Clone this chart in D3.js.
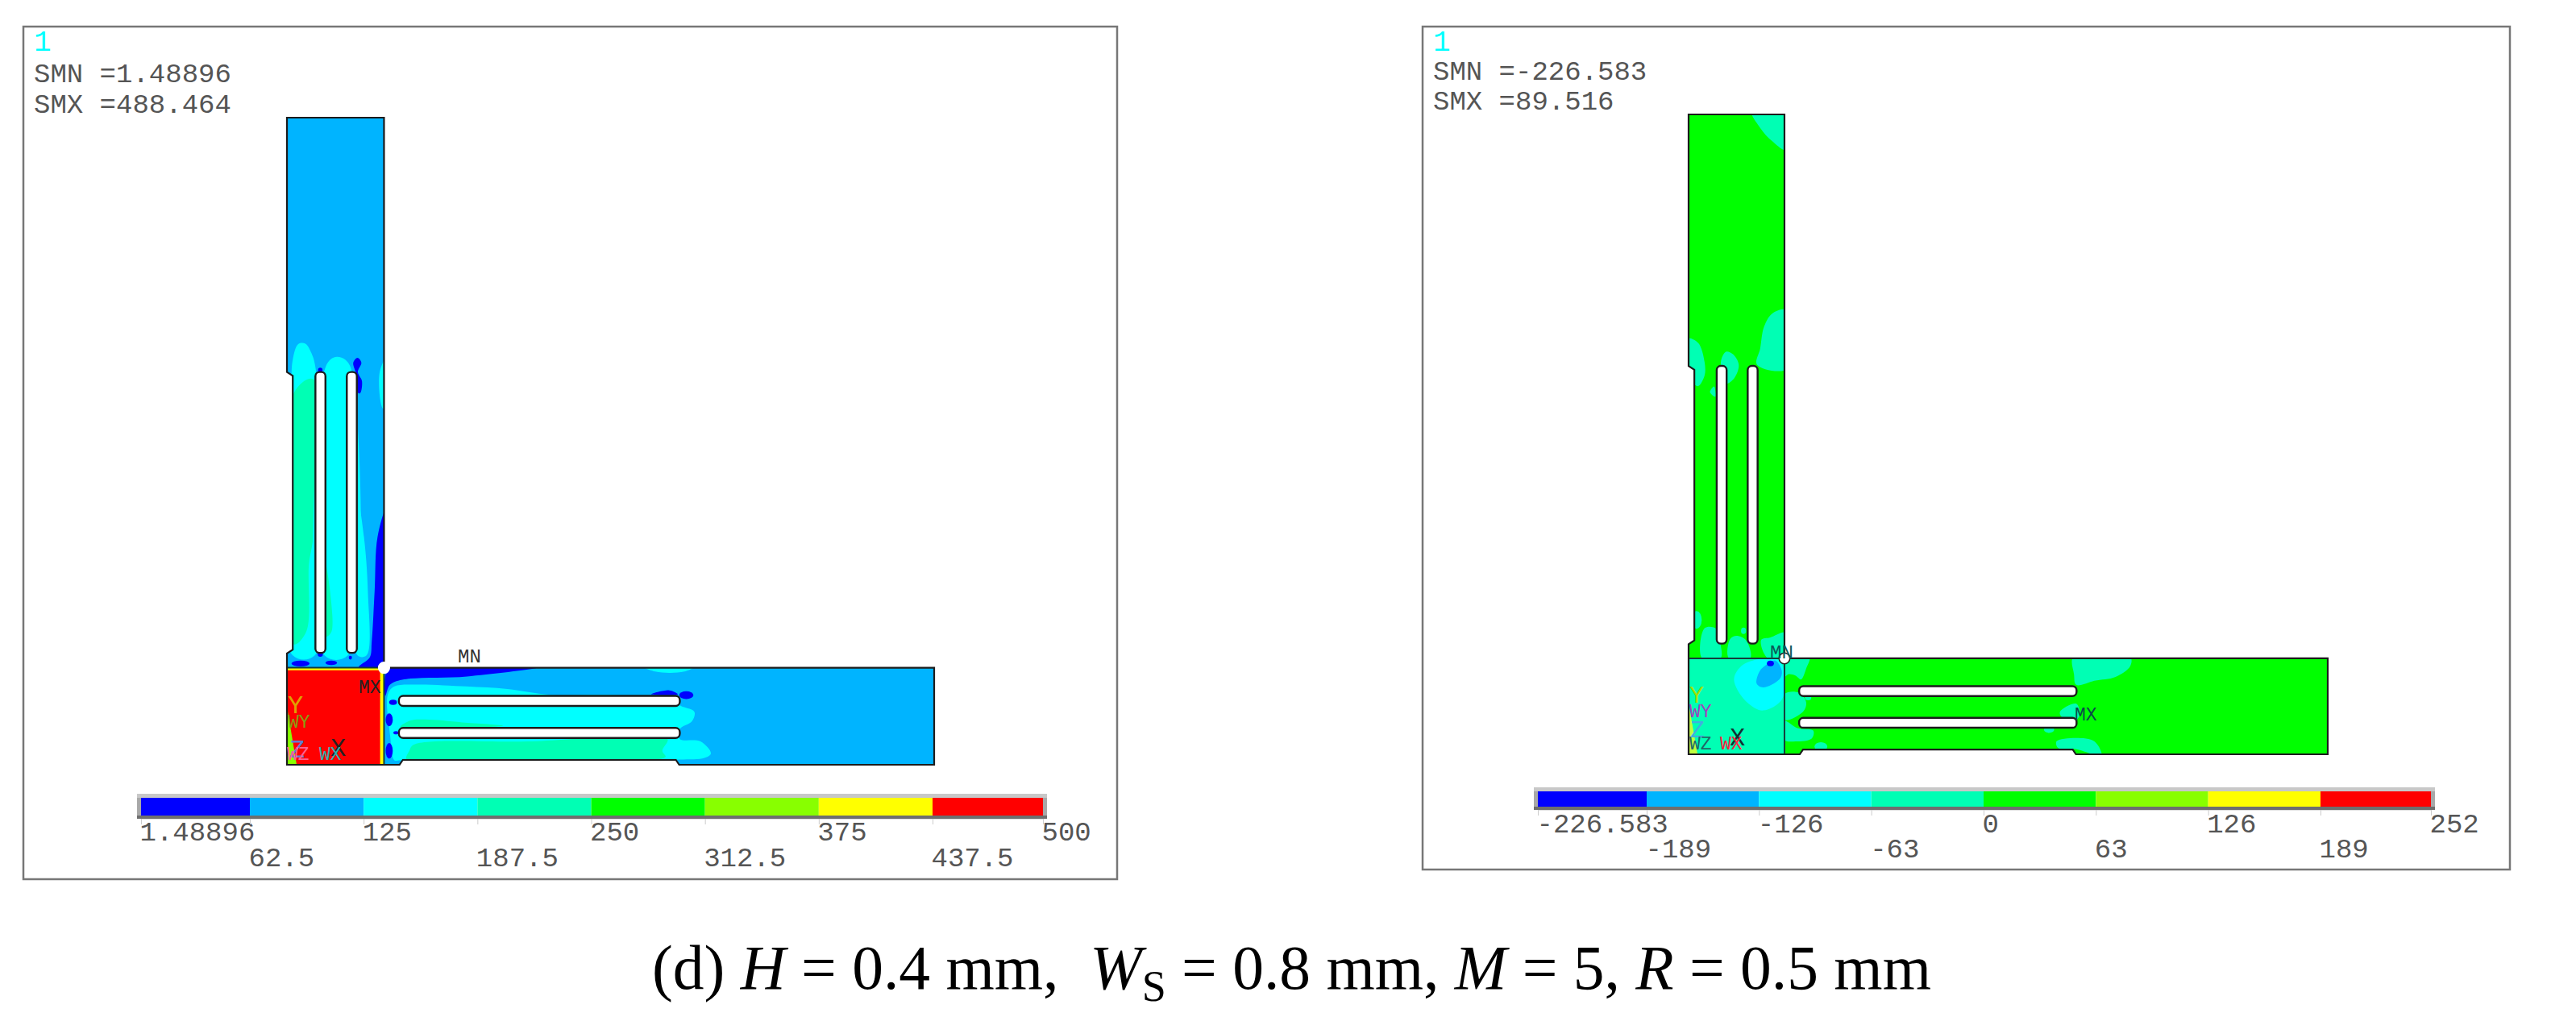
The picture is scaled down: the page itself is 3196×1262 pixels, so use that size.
<!DOCTYPE html>
<html>
<head>
<meta charset="utf-8">
<script src="https://cdn.jsdelivr.net/npm/d3@7"></script>
<style>
  html, body { margin: 0; padding: 0; background: #fff; }
  text { font-family: "Liberation Mono", monospace; }
</style>
</head>
<body>
<svg id="chart" width="3196" height="1262"></svg>
<script>
// contour colours, lowest band first
const bandColors = ['#0000ff', '#00b4ff', '#00ffff', '#00ffb4', '#00ff00', '#88ff00', '#ffff00', '#ff0000'];

// legend tick labels
const leftTicks = ['1.48896', '62.5', '125', '187.5', '250', '312.5', '375', '437.5', '500'];
const rightTicks = ['-226.583', '-189', '-126', '-63', '0', '63', '126', '189', '252'];

// part geometry, model units (the L is 100 x 100)
const bodyOutline = [[0, 0], [17.4, 0], [17.9, 0.75], [60.1, 0.75], [60.6, 0], [100, 0], [100, 15], [15, 15], [15, 100], [0, 100], [0, 60.7], [0.9, 60.1], [0.9, 17.8], [0, 17.2]];
const verticalSlots = [[4.4, 5.95], [9.25, 10.8]];
const horizontalSlots = [[4.15, 5.7], [9.1, 10.65]];
const slotStart = 17.3;
const slotEnd = 60.7;

// left model, von Mises bands: [band, points]
const leftRegions = [
  [2, [[0.7, 57.2], [0.9, 62.6], [1.75, 65], [2.8, 65.1], [3.7, 63.8], [4.45, 61.1], [4.3, 16.9], [0.9, 16.9]]],
  [3, [[1.1, 57.5], [4.05, 59.6], [4.05, 35.2], [3.4, 31], [3, 20.6], [1.1, 18.6]]],
  [2, [[5.7, 60.5], [6.7, 62.6], [7.75, 63.05], [9, 62.6], [10.05, 60.7], [9.4, 16.9], [5.8, 16.9]]],
  [3, [[6, 31], [6.9, 20.6], [6, 19.8]]],
  [2, [[11.1, 40.1], [11.9, 35.2], [12.5, 26.9], [12.3, 16.9], [10.9, 16.9]]],
  [0, [[15.4, 39.7], [14, 35.2], [13.55, 26.9], [13.1, 19], [12.8, 16.6], [11.1, 15.1], [15.4, 15.1]]],
  [2, [[15.4, 63], [14.3, 60.5], [14.85, 55], [15.4, 55]]],
  [0, [[10.25, 62.15], [10.9, 62.9], [11.5, 62.15], [10.95, 60.7], [11.6, 59.25], [11.3, 57.4], [10.95, 57.5], [10.65, 60.5]]],
  [2, [[15.6, 10.9], [16.6, 12.1], [20.1, 12.4], [27.7, 12.1], [34.05, 11.7], [40.7, 10.8], [49.9, 10.8], [60.7, 9.85], [60.7, 9.2], [62.95, 8.2], [62.6, 6.75], [60.7, 5.5], [60.7, 4], [63.9, 3.6], [65.5, 1.75], [64.5, 1.05], [60.7, 0.8], [51.8, 0.7], [17.5, 0.7], [16.6, 0.7], [15.95, 4.45]]],
  [3, [[19.6, 3.1], [37.2, 3.6], [58.8, 4], [58, 2.15], [58.5, 1.2], [51.8, 0.85], [18.5, 0.8], [18.9, 2.15]]],
  [3, [[19.1, 6.85], [21.4, 7], [27.1, 6.55], [33.4, 6.05], [17.5, 5.8]]],
  [0, [[15.2, 13.8], [15.9, 15.2], [39.5, 15.2], [27.8, 13.65], [17.8, 13.15], [15.9, 12.35], [15.2, 10.65]]],
  [0, [[56.3, 10.9], [59.1, 11.5], [60.4, 10.9]]],
  [2, [[55, 15.2], [63, 15.2], [61.4, 14.4], [59.1, 14.2], [56.9, 14.4]]]
];
// small spots: [band, u, v, ru, rv]
const leftSpots = [
  [0, 16.4, 9.65, 0.6, 0.4], [0, 15.8, 6.95, 0.55, 1], [0, 15.8, 2.15, 0.55, 1.2], [0, 16.85, 4.95, 0.4, 0.25],
  [0, 61.7, 10.75, 1.1, 0.6], [0, 2.1, 15.65, 1.4, 0.45], [0, 6.85, 15.75, 0.9, 0.35], [0, 9.8, 16.55, 0.25, 0.3],
  [0, 5.15, 17.1, 0.4, 0.4], [0, 5.15, 61, 0.35, 0.35]
];
// red corner block with its yellow edge
const leftBlock = [[0, 0], [14.4, 0], [14.4, 14.6], [0, 14.6]];
const leftBlockEdge = [[0, 0], [15, 0], [15, 15], [0, 15]];
const leftCornerTri = [[0, 9], [1.5, 0], [0, 0]];

// right model, S1 bands
const rightRegions = [
  [3, [[9.9, 100.5], [11.2, 97.9], [13.1, 95.8], [15.3, 94.4], [15.3, 100.5]]],
  [3, [[15.3, 69.4], [13.1, 68.9], [11.8, 66.8], [11.2, 63.4], [10.7, 60.9], [15.3, 60.2]]],
  [3, [[-0.2, 65], [1.5, 64.3], [2.5, 61.3], [2.5, 59.2], [1.5, 57.55], [0.7, 58], [-0.2, 60]]],
  [3, [[5.05, 61.3], [5.85, 62.9], [6.9, 62.55], [7.85, 60.9], [7.15, 58.8], [5.85, 57.95]]],
  [3, [[4, 57.5], [3.35, 56.6], [4.2, 55.85]]],
  [3, [[2.5, 19.7], [4.2, 19.7], [5, 17.2], [5, 15], [2.1, 15]]],
  [3, [[6.5, 18], [7.5, 18.5], [9, 17.8], [9.65, 15], [6.3, 15]]],
  [3, [[11.35, 17.85], [12.8, 18.25], [15.2, 19], [15.2, 15], [12.4, 15]]],
  [3, [[15, 15.2], [18.9, 15.2], [18.4, 13.4], [17.6, 11.7], [16.7, 12.3], [15.6, 12.5], [15, 12.1]]],
  [3, [[15, 9.4], [17.3, 9.6], [18.4, 8.1], [17.9, 6.65], [15, 5.4]]],
  [3, [[15, 5.2], [17, 4.1], [19.5, 3.7], [19.3, 2.5], [16.75, 2], [15, 2.25]]],
  [3, [[60.2, 15.2], [69.1, 15.2], [69.1, 13.8], [66.8, 12.1], [63.5, 11.5], [60.65, 10.85], [60.3, 12.5]]],
  [3, [[58.1, 6.65], [60.65, 7.9], [61.2, 6.25], [60.4, 5.2], [58.4, 5.8]]],
  [3, [[57.55, 2], [60.65, 2.55], [63.5, 2], [64.6, -0.2], [60.65, 0.8], [57.8, 1]]]
];
const rightSpots = [
  [3, 1.25, 21, 0.8, 1.4], [3, 8.6, 19.3, 0.4, 0.5], [3, 20.7, 1.2, 1, 0.7], [3, 18.7, 8.85, 0.5, 0.4], [3, 56.4, 3.85, 0.8, 0.5]
];
const rightBlockBands = [
  [2, [[8.85, 14.2], [14.2, 14.65], [14.7, 8.75], [11.65, 6.85], [9.4, 7.9], [7.45, 10.45], [7.15, 12.1]]],
  [1, [[12.2, 14], [13.6, 14.65], [14.6, 12.95], [14.2, 11.7], [11.65, 10.45], [10.65, 11.05], [11.1, 12.95]]]
];
const rightBlockSpots = [[0, 12.8, 14.2, 0.55, 0.45]];
const rightCornerTri = [[0, 8], [1.4, 0], [0, 0]];

const svg = d3.select('#chart');

const curve = d3.curveCatmullRomClosed.alpha(0.5);

const drawModel = (cfg) => {
  const x = d3.scaleLinear().domain([0, 100]).range(cfg.xRange);
  const y = d3.scaleLinear().domain([0, 100]).range(cfg.yRange);
  const rx = d => x(d) - x(0);
  const ry = d => y(0) - y(d);
  const g = svg.append('g');

  g.append('rect').attr('x', cfg.frame[0]).attr('y', cfg.frame[1])
    .attr('width', cfg.frame[2] - cfg.frame[0]).attr('height', cfg.frame[3] - cfg.frame[1])
    .attr('fill', '#fff').attr('stroke', '#777').attr('stroke-width', 2.5);

  const polyLine = d3.line().x(d => x(d[0])).y(d => y(d[1]));
  const blob = d3.line().x(d => x(d[0])).y(d => y(d[1])).curve(curve);

  g.append('clipPath').attr('id', cfg.id).append('path')
    .attr('d', polyLine(bodyOutline) + 'Z');

  const plot = g.append('g').attr('clip-path', `url(#${cfg.id})`);
  plot.append('path').attr('d', polyLine(bodyOutline) + 'Z').attr('fill', bandColors[cfg.base]);

  const spots = (sel, list) => sel.selectAll('.spot').data(list).enter().append('ellipse')
    .attr('class', 'spot')
    .attr('cx', d => x(d[1])).attr('cy', d => y(d[2]))
    .attr('rx', d => rx(d[3])).attr('ry', d => ry(d[4]))
    .attr('fill', d => bandColors[d[0]]);

  plot.selectAll('.band').data(cfg.regions).enter().append('path')
    .attr('class', 'band')
    .attr('d', d => blob(d[1]) + 'Z')
    .attr('fill', d => bandColors[d[0]]);
  spots(plot.append('g'), cfg.spots);

  const block = plot.append('g');
  cfg.drawBlock(block, polyLine, blob, spots);

  // slots
  const slotRect = (sel, px, py, w, h) => sel.append('rect')
    .attr('x', px).attr('y', py).attr('width', w).attr('height', h)
    .attr('rx', Math.min(w, h) / 2.4)
    .attr('fill', '#fff').attr('stroke', '#1c1c1c').attr('stroke-width', 2.4);
  verticalSlots.forEach(s => slotRect(g, x(s[0]), y(slotEnd), x(s[1]) - x(s[0]), y(slotStart) - y(slotEnd)));
  horizontalSlots.forEach(s => slotRect(g, x(slotStart), y(s[1]), x(slotEnd) - x(slotStart), y(s[0]) - y(s[1])));

  // element seams at the corner block
  g.append('path').attr('d', polyLine([[0, 15], [15, 15], [15, 0]]))
    .attr('fill', 'none').attr('stroke', '#143c3c').attr('stroke-width', 2);

  g.append('path').attr('d', polyLine(bodyOutline) + 'Z')
    .attr('fill', 'none').attr('stroke', '#1c1c1c').attr('stroke-width', 2.2);

  g.append('circle').attr('cx', x(15)).attr('cy', y(15)).attr('r', rx(0.85))
    .attr('fill', '#fff').attr('stroke', cfg.holeStroke).attr('stroke-width', 1.5);

  // header text
  g.append('text').attr('x', cfg.frame[0] + 13).attr('y', cfg.frame[1] + 30)
    .attr('font-size', 36).attr('fill', '#00ffff').text('1');
  cfg.header.forEach((t, i) => {
    g.append('text').attr('x', cfg.frame[0] + 13).attr('y', cfg.headerY[i])
      .attr('font-size', 34).attr('fill', '#555').text(t);
  });

  // node and triad labels
  g.selectAll('.note').data(cfg.notes).enter().append('text')
    .attr('class', 'note')
    .attr('x', d => d[1]).attr('y', d => d[2])
    .attr('font-size', d => d[3]).attr('fill', d => d[4])
    .text(d => d[0]);

  // legend bar
  const idx = d3.range(cfg.ticks.length);
  const barX = d3.scaleLinear().domain([0, 1, 7, 8]).range(cfg.barRange);
  const [by0, by1] = cfg.barY;
  g.append('rect').attr('x', barX(0) - 5).attr('y', by0 - 5)
    .attr('width', barX(8) - barX(0) + 10).attr('height', 5).attr('fill', '#c8c8c8');
  g.append('rect').attr('x', barX(0) - 5).attr('y', by1)
    .attr('width', barX(8) - barX(0) + 10).attr('height', 4).attr('fill', '#6e6e6e');
  g.append('rect').attr('x', barX(0) - 5).attr('y', by0)
    .attr('width', 5).attr('height', by1 - by0).attr('fill', '#a8a8a8');
  g.append('rect').attr('x', barX(8)).attr('y', by0)
    .attr('width', 5).attr('height', by1 - by0).attr('fill', '#a8a8a8');
  g.selectAll('.swatch').data(bandColors).enter().append('rect')
    .attr('class', 'swatch')
    .attr('x', (d, i) => barX(i)).attr('y', by0)
    .attr('width', (d, i) => barX(i + 1) - barX(i)).attr('height', by1 - by0)
    .attr('fill', d => d);

  const axis = d3.axisBottom(barX).tickValues(idx).tickSize(7).tickSizeOuter(0)
    .tickFormat(i => cfg.ticks[i]);
  const ag = g.append('g').attr('transform', `translate(0, ${by1 + 4})`).call(axis);
  ag.select('.domain').attr('stroke', '#ddd');
  ag.selectAll('.tick line').attr('stroke', '#ccc');
  ag.selectAll('.tick text')
    .attr('font-family', '"Liberation Mono", monospace').attr('font-size', 34)
    .attr('fill', '#555').attr('text-anchor', 'start').attr('dy', 0)
    .attr('x', -2)
    .attr('y', (d, i) => (i % 2 ? cfg.labelRows[1] : cfg.labelRows[0]) - by1 - 4);
};

drawModel({
  id: 'clip-left',
  xRange: [356, 1159],
  yRange: [949, 146],
  frame: [29, 33, 1386, 1091],
  base: 1,
  regions: leftRegions,
  spots: leftSpots,
  holeStroke: '#fff',
  drawBlock: (sel, polyLine) => {
    sel.append('path').attr('d', polyLine(leftBlockEdge) + 'Z').attr('fill', '#ffff00');
    sel.append('path').attr('d', polyLine(leftBlock) + 'Z').attr('fill', '#ff0000');
    sel.append('path').attr('d', polyLine(leftCornerTri) + 'Z').attr('fill', '#88ff00');
  },
  header: ['SMN =1.48896', 'SMX =488.464'],
  headerY: [102, 140],
  notes: [
    ['MN', 568, 822, 24, '#333'],
    ['MX', 445, 860, 23, '#222'],
    ['Y', 357, 885, 32, '#e0a000'],
    ['WY', 357, 903, 23, '#88a010'],
    ['Z', 359, 940, 32, '#6080d0'],
    ['WZ', 356, 943, 23, '#ff6090'],
    ['X', 410, 938, 32, '#222'],
    ['WX', 396, 943, 23, '#30b0b0']
  ],
  ticks: leftTicks,
  barRange: [175, 310, 1157, 1294],
  barY: [990, 1012],
  labelRows: [1043, 1075]
});

drawModel({
  id: 'clip-right',
  xRange: [2095, 2888],
  yRange: [936, 142],
  frame: [1765, 33, 3114, 1079],
  base: 4,
  regions: rightRegions,
  spots: rightSpots,
  holeStroke: '#222',
  drawBlock: (sel, polyLine, blob, spots) => {
    sel.append('path').attr('d', polyLine(leftBlockEdge) + 'Z').attr('fill', '#00ffb4');
    sel.selectAll('.inner').data(rightBlockBands).enter().append('path')
      .attr('class', 'inner')
      .attr('d', d => blob(d[1]) + 'Z').attr('fill', d => bandColors[d[0]]);
    spots(sel.append('g'), rightBlockSpots);
    sel.append('path').attr('d', polyLine(rightCornerTri) + 'Z').attr('fill', '#c0ff40');
  },
  header: ['SMN =-226.583', 'SMX =89.516'],
  headerY: [99, 136],
  notes: [
    ['MN', 2196, 817, 24, '#0a5a5a'],
    ['MX', 2574, 894, 23, '#0a4a4a'],
    ['Y', 2096, 872, 30, '#a0e000'],
    ['WY', 2096, 890, 23, '#a040c0'],
    ['Z', 2097, 915, 30, '#40b0e0'],
    ['WZ', 2096, 930, 23, '#206868'],
    ['X', 2146, 925, 32, '#103030'],
    ['WX', 2134, 930, 23, '#ff2040']
  ],
  ticks: rightTicks,
  barRange: [1908, 2043, 2879, 3016],
  barY: [982, 1001],
  labelRows: [1033, 1064]
});

// caption
const caption = svg.append('text').attr('x', 809).attr('y', 1227)
  .attr('font-size', 77.5).attr('fill', '#000')
  .style('font-family', '"Liberation Serif", serif');
const captionParts = [['(d) ', 0], ['H', 1], [' = 0.4 mm,  ', 0], ['W', 1], ['S', 2], [' = 0.8 mm, ', 0], ['M', 1], [' = 5, ', 0], ['R', 1], [' = 0.5 mm', 0]];
captionParts.forEach(p => {
  const t = caption.append('tspan').attr('xml:space', 'preserve').text(p[0]);
  if (p[1] === 1) t.attr('font-style', 'italic');
  if (p[1] === 2) t.attr('font-size', 54).attr('dy', 15);
  if (p[0] === ' = 0.8 mm, ') t.attr('dy', -15);
});
</script>
</body>
</html>
